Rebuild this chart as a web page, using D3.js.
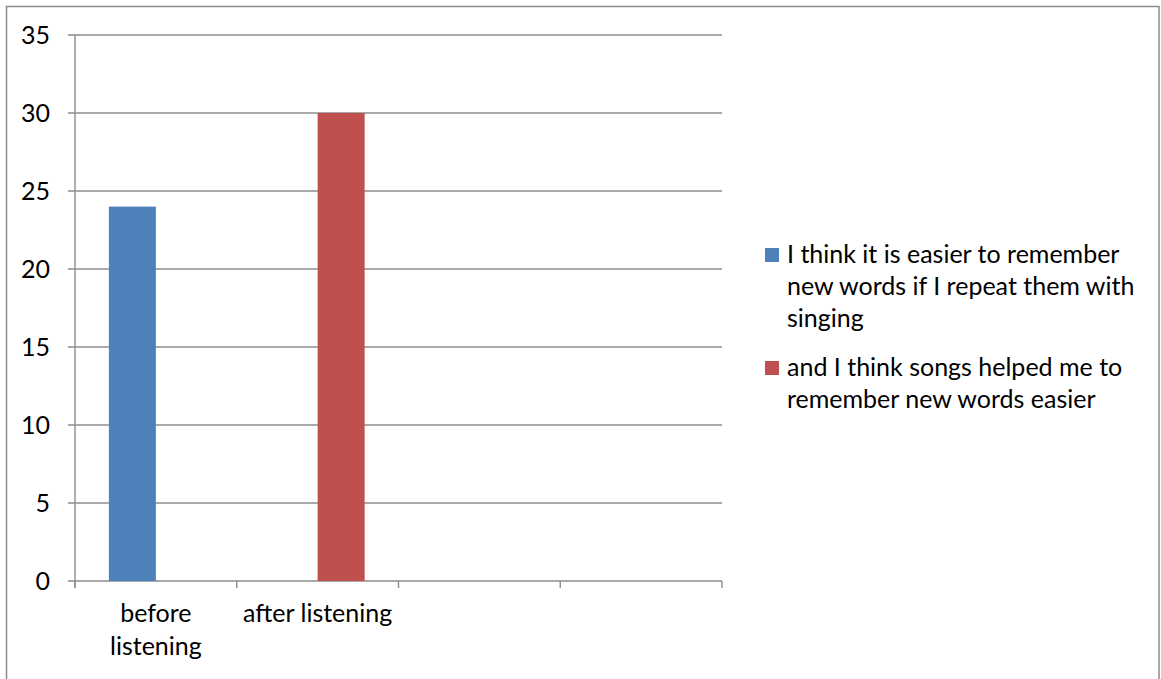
<!DOCTYPE html>
<html>
<head>
<meta charset="utf-8">
<script src="https://cdn.jsdelivr.net/npm/d3@7"></script>
<style>
    body { margin: 0; background: #fff; }
    text { font-family: Lato, "Open Sans", sans-serif; fill: #000; }
</style>
</head>
<body>
<div id="chart"></div>
<script>
const categories = ["before listening", "after listening", "", ""];
const seriesNames = [
    "I think it is easier to remember new words if I repeat them with singing",
    "and I think songs helped me to remember new words easier"
];
const seriesColors = ["#4f81bd", "#c0504d"];
// values per category, one column per series (null = no bar)
const blueValues = [24, null, null, null];
const redValues = [null, 30, null, null];
const yTicks = [0, 5, 10, 15, 20, 25, 30, 35];
const legendLines = [
    ["I think it is easier to remember", "new words if I repeat them with", "singing"],
    ["and I think songs helped me to", "remember new words easier"]
];

const W = 1161, H = 679;
const FONT = 25;
const gridColor = "#8c8c8c";

let svg = d3.select("#chart").append("svg")
    .attr("width", W)
    .attr("height", H);

// outer frame
svg.append("rect")
    .attr("x", 6.5).attr("y", 6.5)
    .attr("width", 1152.5).attr("height", 700)
    .attr("fill", "none")
    .attr("stroke", "#8a8a8a")
    .attr("stroke-width", 1.5);

let plot = {left: 75, right: 722, top: 35, bottom: 581};

let x0 = d3.scaleBand().domain(d3.range(categories.length))
    .range([plot.left, plot.right]).padding(0);
let x1 = d3.scaleBand().domain([0, 1])
    .range([0, x0.bandwidth()]).paddingInner(0).paddingOuter(0.72);
let y = d3.scaleLinear().domain([0, 35]).range([plot.bottom, plot.top]);

// gridlines
svg.selectAll(".grid")
    .data(yTicks)
    .enter()
    .append("line")
    .attr("class", "grid")
    .attr("x1", plot.left - 7)
    .attr("x2", plot.right)
    .attr("y1", d => y(d))
    .attr("y2", d => y(d))
    .attr("stroke", gridColor)
    .attr("stroke-width", 1.4);

// y labels
svg.selectAll(".ylab")
    .data(yTicks)
    .enter()
    .append("text")
    .attr("class", "ylab")
    .attr("x", 50)
    .attr("y", d => y(d))
    .attr("dy", "0.34em")
    .attr("text-anchor", "end")
    .attr("font-size", FONT)
    .text(d => d);

// y axis line
svg.append("line")
    .attr("x1", plot.left).attr("x2", plot.left)
    .attr("y1", plot.top).attr("y2", plot.bottom + 7)
    .attr("stroke", gridColor).attr("stroke-width", 1.4);

// x ticks
let xTickPos = d3.range(categories.length + 1).map(i => i < categories.length ? x0(i) : plot.right);
svg.selectAll(".xtick")
    .data(xTickPos)
    .enter()
    .append("line")
    .attr("x1", d => d).attr("x2", d => d)
    .attr("y1", plot.bottom).attr("y2", plot.bottom + 7)
    .attr("stroke", gridColor).attr("stroke-width", 1.4);

// bars
let allSeries = [blueValues, redValues];
allSeries.forEach(function (vals, s) {
    svg.selectAll(".bar" + s)
        .data(vals.map((v, i) => ({i: i, v: v})).filter(d => d.v != null))
        .enter()
        .append("rect")
        .attr("x", d => x0(d.i) + x1(s))
        .attr("width", x1.bandwidth())
        .attr("y", d => y(d.v))
        .attr("height", d => y(0) - y(d.v))
        .attr("fill", seriesColors[s]);
});

// x labels (wrapped when too long)
categories.forEach(function (c, i) {
    if (!c) return;
    let cx = x0(i) + x0.bandwidth() / 2;
    let lines = c === "before listening" ? ["before", "listening"] : [c];
    let t = svg.append("text")
        .attr("font-size", FONT)
        .attr("text-anchor", "middle");
    lines.forEach(function (l, k) {
        t.append("tspan")
            .attr("x", cx)
            .attr("y", 622 + k * 33)
            .text(l);
    });
});

// legend
let legendY = [248, 361];
legendLines.forEach(function (lines, s) {
    svg.append("rect")
        .attr("x", 765).attr("y", legendY[s])
        .attr("width", 14).attr("height", 14)
        .attr("fill", seriesColors[s]);
    let t = svg.append("text").attr("font-size", FONT);
    lines.forEach(function (l, k) {
        t.append("tspan")
            .attr("x", 787)
            .attr("y", legendY[s] + 15 + k * 32)
            .text(l);
    });
});
</script>
</body>
</html>
